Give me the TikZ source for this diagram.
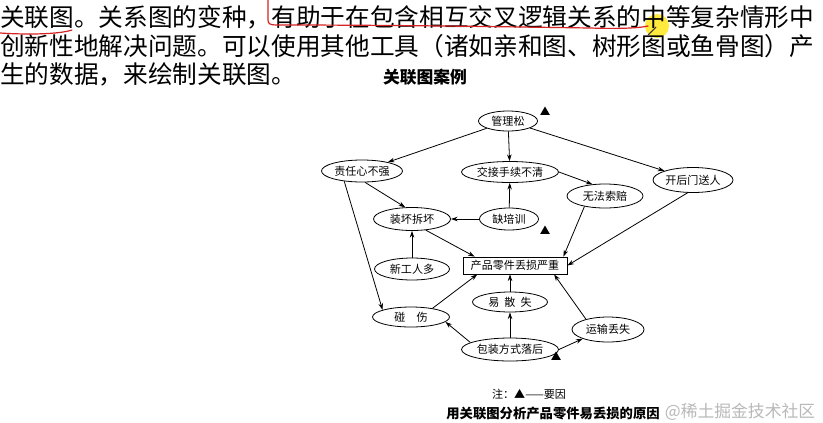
\documentclass[tikz,border=0pt]{standalone}
\usepackage{fontspec}
\setmainfont{Noto Sans CJK SC}
\usetikzlibrary{shapes.geometric,arrows.meta}
\definecolor{pen}{RGB}{215,35,35}
\definecolor{hl}{RGB}{255,232,40}
\begin{document}
\begin{tikzpicture}[x=0.75pt,y=-0.75pt,
  ell/.style 2 args={ellipse,draw,line width=0.6pt,inner sep=0pt,
    minimum width=#1*0.75pt,minimum height=#2*0.75pt,
    font=\fontsize{8.3pt}{9pt}\selectfont},
  box/.style={rectangle,draw,line width=0.6pt,inner sep=0pt,
    minimum width=104*0.75pt,minimum height=17*0.75pt,
    font=\fontsize{8.3pt}{9pt}\selectfont},
  arr/.style={-{Stealth[length=5pt,width=3.4pt]},line width=0.6pt},
  tri/.style={regular polygon,regular polygon sides=3,fill=black,
    inner sep=0pt,minimum size=11*0.75pt},
  big/.style={anchor=west,inner sep=0pt,font=\fontsize{18.5pt}{20pt}\selectfont},
  penline/.style={draw=pen,line width=0.9pt,line cap=round}
]
\useasboundingbox (0,0) rectangle (823,422);
\fill[white] (0,0) rectangle (823,422);

% highlight dot
\fill[hl,opacity=0.9] (657,26) circle (12);

% top text
\node[big] (l1) at (0,17) {关联图。关系图的变种，有助于在包含相互交叉逻辑关系的中等复杂情形中};
\node[big] (l2) at (0,46) {创新性地解决问题。可以使用其他工具（诸如亲和图、树形图或鱼骨图）产};
\node[big] (l3) at (0,74) {生的数据，来绘制关联图。};

% red annotations
\draw[penline] (0,33) .. controls (30,35) and (60,34) .. (72,30);
\draw[penline] (268,0) -- (268,20) .. controls (268,24) and (270,25) .. (278,25)
  .. controls (400,25) and (520,27) .. (590,28) .. controls (620,29) and (640,28) .. (648,26);
\draw[gray!40!black,line width=0.8pt] (648,35) -- (656,27);

% title
\node[inner sep=0pt,font=\fontsize{12.6pt}{14pt}\selectfont\bfseries] (title) at (425,77) {关联图案例};

% nodes
\node[ell={59}{20}] (gl) at (508,121) {管理松};
\node[ell={81}{22}] (zr) at (362,171) {责任心不强};
\node[ell={97}{21}] (jj) at (510,172) {交接手续不清};
\node[ell={77}{23}] (zh) at (412,219) {装坏拆坏};
\node[ell={59}{22}] (px) at (509,219) {缺培训};
\node[ell={80}{25}] (kh) at (693,180) {开后门送人};
\node[ell={76}{24}] (wf) at (605,196) {无法索赔};
\node[box] (rc) at (515,265.5) {产品零件丢损严重};
\node[ell={75}{22}] (xg) at (412,269) {新工人多};
\node[ell={75}{20}] (ys) at (510,302) {易\ \ 散\ \ 失};
\node[ell={77}{20}] (pp) at (411,317) {碰\quad 伤};
\node[ell={72}{25}] (ss) at (608,329.5) {运输丢失};
\node[ell={97}{23}] (bz) at (510,349.5) {包装方式落后};

% key-cause marks
\node[tri] (t1) at (545,112) {};
\node[tri] (t2) at (545,231) {};
\node[tri] (t3) at (556,357) {};

% connectors
\draw[arr] (gl) -- (zr);
\draw[arr] (gl) -- (jj);
\draw[arr] (gl) -- (kh);
\draw[arr] (zr.285) -- (zh.120);
\draw[arr] (zr.210) -- (pp.166);
\draw[arr] (px) -- (zh);
\draw[arr] (px) -- (jj);
\draw[arr] (jj.east) -- (wf.137);
\draw[arr] (wf.207) -- ([xshift=-3pt]rc.north east);
\draw[arr] (kh.247) -- (rc.east);
\draw[arr] (zh.321) -- ([xshift=9pt]rc.north west);
\draw[arr] (xg) -- (zh);
\draw[arr] (pp.22) -- ([xshift=11pt]rc.south west);
\draw[arr] (ys.north) -- (ys.north |- rc.south);
\draw[arr] (bz.north) -- (ys.south);
\draw[arr] (bz.170) -- (pp.-8);
\draw[arr] (bz.east) -- (ss.200);
\draw[arr] (ss.155) -- ([xshift=-10pt]rc.south east);

% legend and caption
\node[inner sep=0pt,font=\fontsize{8.3pt}{9pt}\selectfont] (leg) at (529,394) {注：▲——要因};
\node[inner sep=0pt,font=\fontsize{10pt}{11pt}\selectfont\bfseries] (cap) at (553,413) {用关联图分析产品零件易丢损的原因};
\node[inner sep=0pt,text=gray!55,font=\fontsize{12.6pt}{14pt}\selectfont] (wm) at (740,412) {@稀土掘金技术社区};
\end{tikzpicture}
\end{document}
